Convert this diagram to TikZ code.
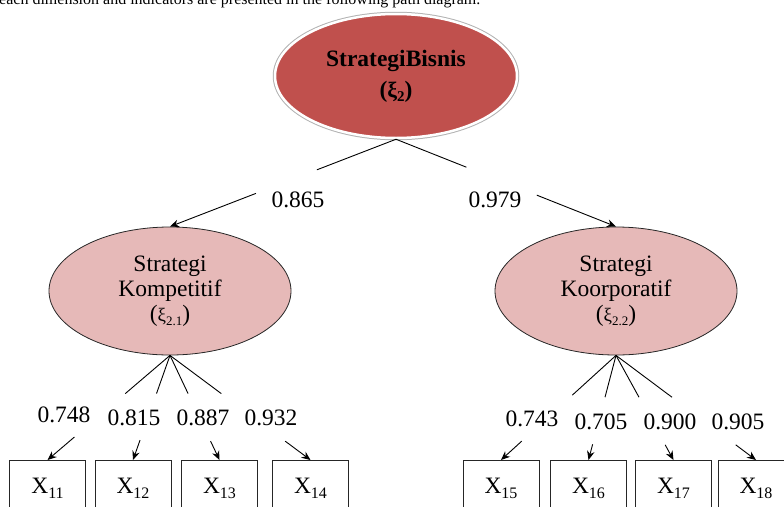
\documentclass[tikz,border=0pt]{standalone}
\usepackage{fontspec}
\setmainfont{Liberation Serif}
\usetikzlibrary{arrows.meta,calc,shapes.geometric}
\definecolor{topred}{HTML}{C0504D}
\definecolor{lightred}{HTML}{E6B9B8}
\newcommand\mysub[1]{\raisebox{-5pt}{\fontsize{16}{16}\selectfont #1}}
\newcommand\xisub[1]{{\fontsize{19}{19}\selectfont ξ}\raisebox{-4pt}{\fontsize{13}{13}\selectfont #1}}
\begin{document}
\begin{tikzpicture}[x=1pt,y=-1pt,
  topnode/.style={ellipse, fill=topred, draw=white, line width=2.5pt,
    preaction={draw=black!30, line width=4.5pt},
    minimum width=242pt, minimum height=124pt, inner sep=0pt, align=center,
    font=\fontsize{23.5}{31}\selectfont\bfseries},
  lat/.style={ellipse, fill=lightred, draw=black!85, line width=0.8pt,
    minimum width=242pt, minimum height=128pt, inner sep=0pt, align=center,
    font=\fontsize{23.5}{25}\selectfont},
  ind/.style={draw=black!85, line width=0.8pt, minimum width=76pt, inner sep=0pt,
    text height=33pt, text depth=37pt, anchor=north,
    font=\fontsize{23.5}{25}\selectfont},
  lab/.style={anchor=base, inner sep=0pt, font=\fontsize{23.5}{25}\selectfont},
  link/.style={line width=0.9pt},
  arr/.style={line width=0.9pt, -{Stealth[length=9pt,width=7.5pt]}}]
\clip (0,0) rectangle (784,506);
\useasboundingbox (0,0) rectangle (784,506);

\node[anchor=base west, inner sep=0pt, font=\fontsize{16}{18}\selectfont] (cap) at (-1,5)
  {each dimension and indicators are presented in the following path diagram.};

\node[topnode] (top) at (396,76) {StrategiBisnis\\({\fontsize{22}{22}\selectfont ξ}\raisebox{-4pt}{\fontsize{15}{15}\selectfont 2})};
\node[lat] (k1) at (170,291) {Strategi\\Kompetitif\\(\xisub{2.1})};
\node[lat] (k2) at (616,291) {Strategi\\Koorporatif\\(\xisub{2.2})};

\node[ind] (x11) at (47.5,460) {X\mysub{11}};
\node[ind] (x12) at (133,460) {X\mysub{12}};
\node[ind] (x13) at (219.5,460) {X\mysub{13}};
\node[ind] (x14) at (310.5,460) {X\mysub{14}};
\node[ind] (x15) at (501,460) {X\mysub{15}};
\node[ind] (x16) at (588.5,460) {X\mysub{16}};
\node[ind] (x17) at (673.5,460) {X\mysub{17}};
\node[ind] (x18) at (756,460) {X\mysub{18}};

\node[lab] (l1) at (298,207) {0.865};
\node[lab] (l2) at (495,207) {0.979};
\node[lab] (l11) at (64,422.5) {0.748};
\node[lab] (l12) at (134,425.5) {0.815};
\node[lab] (l13) at (203,425.5) {0.887};
\node[lab] (l14) at (271,425.5) {0.932};
\node[lab] (l15) at (532,426) {0.743};
\node[lab] (l16) at (601,429) {0.705};
\node[lab] (l17) at (670,429) {0.900};
\node[lab] (l18) at (738,429) {0.905};

\draw[link] (top.south) -- ($(top.south)!0.35!(k1.north)$);
\draw[arr] ($(top.south)!0.62!(k1.north)$) -- (k1.north);
\draw[link] (top.south) -- ($(top.south)!0.32!(k2.north)$);
\draw[arr] ($(top.south)!0.64!(k2.north)$) -- (k2.north);

\foreach \n/\a/\b in {x11/0.365/0.78, x12/0.365/0.81, x13/0.365/0.82, x14/0.365/0.82}{
  \draw[link] (k1.south) -- ($(k1.south)!\a!(\n.north)$);
  \draw[arr] ($(k1.south)!\b!(\n.north)$) -- (\n.north);
}
\foreach \n/\a/\b in {x15/0.38/0.82, x16/0.4/0.85, x17/0.4/0.855, x18/0.4/0.855}{
  \draw[link] (k2.south) -- ($(k2.south)!\a!(\n.north)$);
  \draw[arr] ($(k2.south)!\b!(\n.north)$) -- (\n.north);
}
\end{tikzpicture}
\end{document}
